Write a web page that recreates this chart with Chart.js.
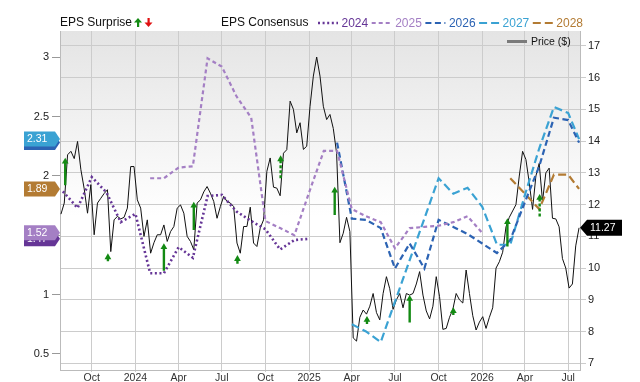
<!DOCTYPE html>
<html>
<head>
<meta charset="utf-8">
<script src="https://cdn.jsdelivr.net/npm/chart.js@4.4.1/dist/chart.umd.min.js"></script>
<style>
  html, body { margin: 0; padding: 0; background: #fff; }
  #wrap { width: 640px; height: 382px; }
</style>
</head>
<body>
<div id="wrap"><canvas id="epsChart" width="640" height="382"></canvas></div>
<script>
const _ = null;

// weekly closing price, first week ending 2023-07-28
const priceStart = '2023-07-28';
const price = [
  11.70, 12.05, 13.57, 13.68, 13.45, 13.99, 13.10, 12.50, 11.73, 12.63,
  11.05, 12.05, 12.20, 12.35, 12.47, 10.52, 11.52, 11.63, 11.55, 11.60,
  11.89, 13.20, 13.20, 12.15, 11.89, 11.00, 11.52, 10.47, 10.80, 11.05,
  11.05, 11.36, 10.84, 11.15, 11.31, 11.89, 11.99, 11.73, 11.00, 10.84,
  10.58, 12.05, 12.15, 12.40, 12.57, 12.36, 12.10, 11.57, 11.94, 12.26,
  12.10, 12.05, 11.94, 10.79, 10.47, 11.31, 11.31, 11.92, 10.79, 10.68,
  11.26, 11.52, 13.05, 13.47, 12.55, 12.52, 12.28, 13.62, 13.73, 15.26,
  15.00, 14.26, 14.58, 13.74, 13.84, 15.10, 16.05, 16.65, 16.05, 15.10,
  14.68, 14.84, 14.40, 13.62, 10.80, 11.10, 11.60, 11.15, 7.80, 7.70,
  8.45, 8.68, 8.55, 8.80, 9.20, 8.60, 8.37, 9.20, 9.73, 9.35,
  8.70, 9.00, 9.20, 8.75, 9.20, 9.15, 9.20, 9.50, 9.89, 9.15,
  8.65, 8.40, 8.80, 9.73, 9.10, 8.07, 8.10, 8.45, 8.70, 9.20,
  9.00, 8.90, 9.94, 9.20, 8.50, 8.05, 8.30, 8.47, 8.10, 8.45,
  8.75, 10.00, 10.20, 10.50, 11.30, 11.60, 11.80, 12.00, 12.90, 13.68,
  13.42, 12.70, 11.85, 12.90, 13.30, 12.10, 13.00, 13.15, 11.57, 11.55,
  11.30, 10.30, 10.00, 9.37, 9.50, 10.70, 11.27
];

// monthly EPS consensus per fiscal year
const consensusDates = [
  '2023-08-01', '2023-09-01', '2023-10-01', '2023-11-01', '2023-12-01',
  '2024-01-01', '2024-02-01', '2024-03-01', '2024-04-01', '2024-05-01', '2024-06-01',
  '2024-07-01', '2024-08-01', '2024-09-01', '2024-10-01', '2024-11-01', '2024-12-01',
  '2025-01-01', '2025-02-01', '2025-03-01', '2025-04-01', '2025-05-01', '2025-06-01',
  '2025-07-01', '2025-08-01', '2025-09-01', '2025-10-01', '2025-11-01', '2025-12-01',
  '2026-01-01', '2026-02-01', '2026-03-01', '2026-04-01', '2026-05-01', '2026-06-01',
  '2026-07-01', '2026-07-24'
];
const eps2024 = [
  1.87, 1.73, 1.99, 1.86, 1.61,
  1.68, 1.18, 1.18, 1.40, 1.31, 1.83,
  1.84, 1.70, 1.62, 1.55, 1.38, 1.46,
  1.47, _, _, _, _, _,
  _, _, _, _, _, _,
  _, _, _, _, _, _,
  _, _
];
const eps2025 = [
  _, _, _, _, _,
  _, 1.98, 1.98, 2.07, 2.08, 2.99,
  2.92, 2.67, 2.49, 1.62, 1.56, 1.50,
  1.86, 2.21, 2.21, 1.72, 1.66, 1.61,
  1.39, 1.56, 1.57, 1.58, 1.61, 1.66,
  1.52, _, _, _, _, _,
  _, _
];
const eps2026 = [
  _, _, _, _, _,
  _, _, _, _, _, _,
  _, _, _, _, _, _,
  _, _, 2.28, 1.64, 1.63, 1.56,
  1.22, 1.43, 1.22, 1.63, 1.57, 1.51,
  1.43, 1.35, 1.46, 1.78, 2.08, 2.49,
  2.47, 2.28
];
const eps2027 = [
  _, _, _, _, _,
  _, _, _, _, _, _,
  _, _, _, _, _, _,
  _, _, _, 0.75, 0.69, 0.60,
  0.94, 1.29, 1.64, 1.98, 1.85, 1.90,
  1.74, 1.42, 1.42, 1.84, 2.23, 2.58,
  2.53, 2.31
];
const eps2028 = [
  _, _, _, _, _,
  _, _, _, _, _, _,
  _, _, _, _, _, _,
  _, _, _, _, _, _,
  _, _, _, _, _, _,
  _, _, 1.98, 1.85, 1.72, 2.01,
  2.01, 1.89
];
const yearNames = ['2024', '2025', '2026', '2027', '2028'];

// EPS surprises: consensus -> reported
const surpriseDates = ['2023-08-06', '2023-11-04', '2024-03-01', '2024-05-03', '2024-08-03', '2024-11-02',
                       '2025-02-24', '2025-05-03', '2025-08-01', '2025-11-01', '2026-02-23', '2026-05-02'];
const surpriseFrom = [1.92, 1.28, 1.20, 1.545, 1.26, 1.98, 1.67, 0.753, 0.764, 0.829, 1.406, 1.657];
const surpriseTo   = [2.12, 1.315, 1.40, 1.75, 1.30, 2.14, 1.876, 0.787, 0.964, 0.861, 1.61, 1.815];
const surpriseProjected = [false, false, false, false, false, true, false, false, false, false, false, true];

// axis ticks
const quarterTicks = ['2023-10-01', '2024-01-01', '2024-04-01', '2024-07-01', '2024-10-01', '2025-01-01',
                      '2025-04-01', '2025-07-01', '2025-10-01', '2026-01-01', '2026-04-01', '2026-07-01'];
const epsTicks = [0.5, 1, 1.5, 2, 2.5, 3];
const priceTicks = [7, 8, 9, 10, 11, 12, 13, 14, 15, 16, 17];

const DAY = 86400000;
const ts = s => Date.parse(s + 'T00:00:00Z');
const monthNames = ['Jan', 'Feb', 'Mar', 'Apr', 'May', 'Jun', 'Jul', 'Aug', 'Sep', 'Oct', 'Nov', 'Dec'];
const FONT = '"Liberation Sans", Arial, Helvetica, sans-serif';
Chart.defaults.font.family = FONT;

const yearColors = ['#653596', '#a47fc4', '#2c63b3', '#3aa2d3', '#b37b33'];
const yearDash = [[2, 2.6], [4, 3], [6, 3.5], [8, 4], [8, 4]];
const GREEN = '#138a13';

const priceData = price.map((v, i) => ({ x: ts(priceStart) + i * 7 * DAY, y: v }));
const yearSeries = [eps2024, eps2025, eps2026, eps2027, eps2028];
const consensusSets = yearSeries.map((arr, k) => ({
  label: yearNames[k],
  data: arr.map((v, i) => ({ x: ts(consensusDates[i]), y: v })).filter(p => p.y !== null),
  yAxisID: 'yEps',
  borderColor: yearColors[k],
  borderWidth: k === 0 ? 2.6 : 2.2,
  borderDash: yearDash[k],
  pointRadius: 0,
  fill: false,
  order: 5
}));

function shafts(projected) {
  const pts = [];
  surpriseDates.forEach((d, i) => {
    if (surpriseProjected[i] !== projected) return;
    pts.push({ x: ts(d), y: surpriseFrom[i] }, { x: ts(d), y: surpriseTo[i] }, { x: ts(d), y: null });
  });
  return pts;
}

const bgPlugin = {
  id: 'bg',
  beforeDraw(chart) {
    const { ctx, chartArea: a } = chart;
    ctx.save();
    ctx.fillStyle = '#fff';
    ctx.fillRect(0, 0, chart.width, chart.height);
    const g = ctx.createLinearGradient(0, a.top, 0, a.top + 185);
    g.addColorStop(0, '#e4e4e4');
    g.addColorStop(1, '#ffffff');
    ctx.fillStyle = g;
    ctx.fillRect(a.left, a.top, a.right - a.left, a.bottom - a.top);
    ctx.restore();
  }
};

const legendPlugin = {
  id: 'topLegend',
  afterDraw(chart) {
    const ctx = chart.ctx;
    ctx.save();
    ctx.font = '12px ' + FONT;
    ctx.textBaseline = 'middle';
    ctx.textAlign = 'left';
    const y = 23;
    ctx.fillStyle = '#111';
    ctx.fillText('EPS Surprise', 60, y);
    // up / down arrow icons
    ctx.fillStyle = GREEN;
    ctx.beginPath(); ctx.moveTo(134, 22.5); ctx.lineTo(138, 18); ctx.lineTo(142, 22.5); ctx.closePath(); ctx.fill();
    ctx.fillRect(137, 22, 2.2, 5);
    ctx.fillStyle = '#e01010';
    ctx.beginPath(); ctx.moveTo(144.5, 22.5); ctx.lineTo(148.5, 27); ctx.lineTo(152.5, 22.5); ctx.closePath(); ctx.fill();
    ctx.fillRect(147.5, 18, 2.2, 5);

    ctx.fillStyle = '#111';
    ctx.fillText('EPS Consensus', 221, y);
    let x = 318;
    yearNames.forEach((name, k) => {
      ctx.strokeStyle = yearColors[k];
      ctx.lineWidth = k === 0 ? 2.6 : 2.2;
      ctx.setLineDash(yearDash[k]);
      ctx.beginPath(); ctx.moveTo(x, y); ctx.lineTo(x + 20, y); ctx.stroke();
      ctx.setLineDash([]);
      x += 23.5;
      ctx.fillStyle = yearColors[k];
      ctx.fillText(name, x, y + 0.5);
      x += ctx.measureText(name).width + 3.5;
    });

    // price legend inside the plot
    ctx.strokeStyle = '#7a7a7a';
    ctx.lineWidth = 3;
    ctx.beginPath(); ctx.moveTo(507, 41.5); ctx.lineTo(527, 41.5); ctx.stroke();
    ctx.font = '10.5px ' + FONT;
    ctx.fillStyle = '#111';
    ctx.fillText('Price ($)', 531, 42);
    ctx.restore();
  }
};

const badgePlugin = {
  id: 'badges',
  afterDraw(chart) {
    const ctx = chart.ctx;
    const yE = chart.scales.yEps, yP = chart.scales.yPrice;
    ctx.save();
    ctx.font = '10.5px ' + FONT;
    ctx.textBaseline = 'middle';
    ctx.textAlign = 'left';
    yearSeries.forEach((arr, k) => {
      const vals = arr.filter(v => v !== null);
      const v = vals[vals.length - 1];
      const py = yE.getPixelForValue(v);
      const h = 15;
      ctx.fillStyle = yearColors[k];
      ctx.beginPath();
      ctx.moveTo(24, py - h / 2); ctx.lineTo(55, py - h / 2); ctx.lineTo(60, py);
      ctx.lineTo(55, py + h / 2); ctx.lineTo(24, py + h / 2); ctx.closePath();
      ctx.fill();
      ctx.fillStyle = '#fff';
      ctx.fillText(v.toFixed(2), 27, py + 0.5);
    });
    const last = price[price.length - 1];
    const py = yP.getPixelForValue(last);
    const h = 16;
    ctx.fillStyle = '#000';
    ctx.beginPath();
    ctx.moveTo(580, py); ctx.lineTo(587, py - h / 2); ctx.lineTo(622, py - h / 2);
    ctx.lineTo(622, py + h / 2); ctx.lineTo(587, py + h / 2); ctx.closePath();
    ctx.fill();
    ctx.fillStyle = '#fff';
    ctx.fillText(last.toFixed(2), 590, py + 0.5);
    ctx.restore();
  }
};

new Chart(document.getElementById('epsChart').getContext('2d'), {
  type: 'line',
  data: {
    datasets: [
      {
        label: 'surprise heads',
        data: surpriseDates.map((d, i) => ({ x: ts(d), y: surpriseTo[i] })),
        yAxisID: 'yEps',
        showLine: false,
        pointStyle: 'triangle',
        pointRadius: 3.9,
        pointBackgroundColor: GREEN,
        pointBorderWidth: 0,
        order: 0
      },
      {
        label: 'surprise',
        data: shafts(false),
        yAxisID: 'yEps',
        borderColor: GREEN,
        borderWidth: 2.4,
        pointRadius: 0,
        spanGaps: false,
        order: 1
      },
      {
        label: 'surprise projected',
        data: shafts(true),
        yAxisID: 'yEps',
        borderColor: GREEN,
        borderWidth: 2.4,
        borderDash: [3, 2],
        pointRadius: 0,
        spanGaps: false,
        order: 1
      },
      ...consensusSets,
      {
        label: 'Price ($)',
        data: priceData,
        yAxisID: 'yPrice',
        borderColor: '#111',
        borderWidth: 1,
        pointRadius: 0,
        tension: 0,
        order: 10
      }
    ]
  },
  options: {
    responsive: false,
    animation: false,
    layout: { padding: { top: 31, left: 0, right: 0, bottom: 0 } },
    plugins: { legend: { display: false }, tooltip: { enabled: false } },
    scales: {
      x: {
        type: 'linear',
        min: ts('2023-07-26'),
        max: ts('2026-07-26'),
        afterBuildTicks: s => { s.ticks = quarterTicks.map(d => ({ value: ts(d) })); },
        afterFit: s => { s.height = 12; },
        ticks: {
          autoSkip: false,
          maxRotation: 0,
          padding: 0,
          color: '#333',
          font: { size: 10.5 },
          callback: v => {
            const d = new Date(v);
            return d.getUTCMonth() === 0 ? String(d.getUTCFullYear()) : monthNames[d.getUTCMonth()];
          }
        },
        grid: { color: '#cccccc', tickLength: 2 },
        border: { color: '#bbbbbb' }
      },
      yEps: {
        position: 'left',
        min: 0.365,
        max: 3.22,
        afterBuildTicks: s => { s.ticks = epsTicks.map(v => ({ value: v })); },
        afterFit: s => { s.width = 60; },
        ticks: { color: '#222', font: { size: 11 }, padding: 3, callback: v => String(v) },
        grid: { drawOnChartArea: false, color: '#999', tickLength: 8 },
        border: { color: '#bbbbbb' }
      },
      yPrice: {
        position: 'right',
        min: 6.79,
        max: 17.47,
        afterBuildTicks: s => { s.ticks = priceTicks.map(v => ({ value: v })); },
        afterFit: s => { s.width = 60; },
        ticks: { color: '#222', font: { size: 11 }, padding: 2, callback: v => String(v) },
        grid: { color: '#cccccc', tickLength: 6 },
        border: { color: '#bbbbbb' }
      }
    }
  },
  plugins: [bgPlugin, legendPlugin, badgePlugin]
});
</script>
</body>
</html>
